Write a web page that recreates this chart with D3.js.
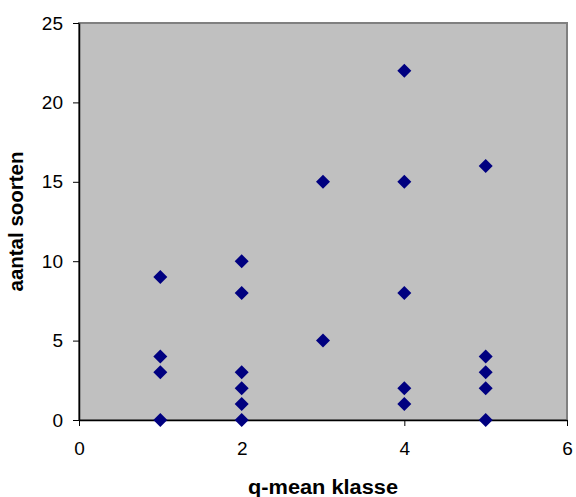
<!DOCTYPE html>
<html>
<head>
<meta charset="utf-8">
<script src="https://cdn.jsdelivr.net/npm/d3@7"></script>
<style>
  html, body { margin: 0; padding: 0; background: #fff; }
  svg text { font-family: "Liberation Sans", Arial, sans-serif; }
</style>
</head>
<body>
<svg id="chart" width="576" height="497"></svg>
<script>
// q-mean class per sample and the number of species found
const klasse = [1, 1, 1, 1, 2, 2, 2, 2, 2, 2, 3, 3, 4, 4, 4, 4, 4, 5, 5, 5, 5, 5];
const soorten = [9, 4, 3, 0, 10, 8, 3, 2, 1, 0, 15, 5, 22, 15, 8, 2, 1, 16, 4, 3, 2, 0];
const xTicks = [0, 2, 4, 6];
const yTicks = [0, 5, 10, 15, 20, 25];

const svg = d3.select("#chart");
const m = { left: 79, right: 567, top: 23, bottom: 420 };

const x = d3.scaleLinear().domain([0, 6]).range([m.left, m.right]);
const y = d3.scaleLinear().domain([0, 25]).range([m.bottom, m.top]);

// plot area
svg.append("rect")
  .attr("x", m.left).attr("y", m.top)
  .attr("width", m.right - m.left).attr("height", m.bottom - m.top)
  .attr("fill", "#c0c0c0")
  .attr("stroke", "#808080").attr("stroke-width", 2);

// axes
const fmt = d3.format("d");
const xAxis = svg.append("g")
  .attr("transform", `translate(0,${m.bottom})`)
  .call(d3.axisBottom(x).tickValues(xTicks).tickFormat(fmt).tickSize(6).tickPadding(16).tickSizeOuter(0));
const yAxis = svg.append("g")
  .attr("transform", `translate(${m.left},0)`)
  .call(d3.axisLeft(y).tickValues(yTicks).tickFormat(fmt).tickSize(6).tickPadding(10).tickSizeOuter(0));

[xAxis, yAxis].forEach(g => {
  g.select(".domain").attr("stroke", "#000").attr("stroke-width", 1.5);
  g.selectAll(".tick line").attr("stroke", "#000");
  g.selectAll(".tick text")
    .attr("font-size", 19)
    .attr("fill", "#000")
    .style("font-family", "'Liberation Sans', Arial, sans-serif");
});

// diamond markers
const diamond = d3.symbol().type(d3.symbolSquare).size(98);
svg.append("g").selectAll("path")
  .data(klasse.map((k, i) => [k, soorten[i]]))
  .join("path")
  .attr("d", diamond)
  .attr("transform", d => `translate(${x(d[0])},${y(d[1])}) rotate(45)`)
  .attr("fill", "#000080");

// axis titles
svg.append("text")
  .attr("x", (m.left + m.right) / 2).attr("y", 494)
  .attr("text-anchor", "middle")
  .attr("font-size", 20).attr("font-weight", "bold")
  .attr("textLength", 150).attr("lengthAdjust", "spacingAndGlyphs")
  .text("q-mean klasse");

svg.append("text")
  .attr("transform", `translate(23,${(m.top + m.bottom) / 2}) rotate(-90)`)
  .attr("text-anchor", "middle")
  .attr("font-size", 20).attr("font-weight", "bold")
  .attr("textLength", 140).attr("lengthAdjust", "spacingAndGlyphs")
  .text("aantal soorten");
</script>
</body>
</html>
